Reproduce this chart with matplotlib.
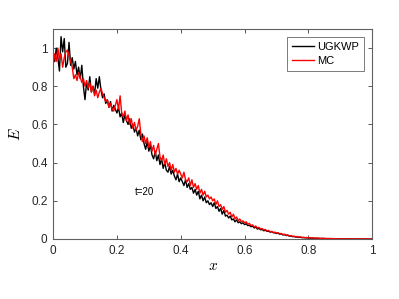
import numpy as np
import matplotlib
matplotlib.use('Agg')
import matplotlib.pyplot as plt

plt.rcParams['font.family'] = ['Liberation Sans', 'DejaVu Sans']
plt.rcParams['mathtext.fontset'] = 'cm'

# x grid of both runs
x = np.linspace(0, 1, 201)

# energy, UGKWP
E_ugkwp = [0.96, 0.93, 1.00, 0.95, 0.88, 1.06, 0.98, 1.05, 0.90, 0.92, 1.03, 0.91, 0.95, 0.89, 0.93, 0.86, 0.90, 0.84, 0.91, 0.80,
           0.73, 0.82, 0.78, 0.85, 0.77, 0.80, 0.76, 0.84, 0.79, 0.85, 0.78, 0.74, 0.76, 0.71, 0.73, 0.69, 0.72, 0.67, 0.70, 0.68,
           0.66, 0.69, 0.64, 0.66, 0.61, 0.65, 0.62, 0.60, 0.63, 0.58, 0.60, 0.56, 0.58, 0.54, 0.57, 0.52, 0.55, 0.50, 0.47, 0.51,
           0.46, 0.49, 0.44, 0.42, 0.46, 0.41, 0.44, 0.39, 0.42, 0.37, 0.40, 0.36, 0.35, 0.38, 0.34, 0.36, 0.33, 0.31, 0.34, 0.30,
           0.32, 0.30, 0.28, 0.31, 0.27, 0.29, 0.26, 0.27, 0.24, 0.26, 0.23, 0.25, 0.21, 0.23, 0.20, 0.22, 0.19, 0.20, 0.18, 0.19,
           0.17, 0.19, 0.16, 0.17, 0.145, 0.16, 0.13, 0.15, 0.12, 0.125, 0.11, 0.12, 0.10, 0.105, 0.09, 0.10, 0.085, 0.09, 0.08, 0.085,
           0.075, 0.08, 0.07, 0.072, 0.064, 0.068, 0.058, 0.062, 0.052, 0.056, 0.048, 0.05, 0.043, 0.046, 0.04, 0.041, 0.036, 0.038, 0.033, 0.032,
           0.029, 0.03, 0.025, 0.027, 0.021, 0.023, 0.018, 0.019, 0.015, 0.016, 0.012, 0.013, 0.010, 0.011, 0.008, 0.009, 0.007, 0.007, 0.006, 0.006,
           0.005, 0.005, 0.004, 0.005, 0.003, 0.004, 0.003, 0.003, 0.002, 0.003, 0.002, 0.002, 0.002, 0.001, 0.002, 0.001, 0.001, 0.001, 0.001, 0.001,
           0.001, 0.0005, 0.001, 0.0005, 0.0005, 0.0005, 0.0, 0.0005, 0.0, 0.0, 0.0, 0.0, 0.0, 0.0, 0.0, 0.0, 0.0, 0.0, 0.0, 0.0, 0.0]

# energy, MC
E_mc = [0.91, 0.97, 0.93, 1.00, 0.94, 0.97, 0.90, 0.95, 0.98, 0.99, 0.96, 0.93, 0.90, 0.84, 0.86, 0.83, 0.87, 0.85, 0.82, 0.84,
        0.80, 0.83, 0.79, 0.82, 0.77, 0.80, 0.75, 0.78, 0.74, 0.77, 0.79, 0.76, 0.74, 0.72, 0.73, 0.69, 0.71, 0.68, 0.67, 0.70,
        0.73, 0.68, 0.75, 0.66, 0.64, 0.67, 0.62, 0.65, 0.60, 0.63, 0.58, 0.61, 0.57, 0.59, 0.63, 0.55, 0.51, 0.54, 0.50, 0.53,
        0.48, 0.51, 0.46, 0.49, 0.44, 0.47, 0.50, 0.43, 0.41, 0.44, 0.39, 0.42, 0.38, 0.40, 0.36, 0.39, 0.35, 0.37, 0.34, 0.36,
        0.34, 0.32, 0.35, 0.31, 0.30, 0.32, 0.28, 0.31, 0.27, 0.29, 0.26, 0.28, 0.24, 0.26, 0.23, 0.25, 0.22, 0.23, 0.21, 0.22,
        0.20, 0.21, 0.18, 0.20, 0.17, 0.18, 0.155, 0.17, 0.14, 0.15, 0.13, 0.14, 0.115, 0.13, 0.105, 0.115, 0.095, 0.105, 0.09, 0.095,
        0.085, 0.09, 0.077, 0.082, 0.07, 0.074, 0.063, 0.068, 0.057, 0.061, 0.052, 0.055, 0.047, 0.05, 0.042, 0.045, 0.038, 0.04, 0.034, 0.036,
        0.031, 0.033, 0.027, 0.029, 0.024, 0.025, 0.02, 0.022, 0.017, 0.018, 0.014, 0.015, 0.012, 0.013, 0.01, 0.011, 0.008, 0.009, 0.007, 0.008,
        0.006, 0.007, 0.005, 0.006, 0.004, 0.005, 0.004, 0.004, 0.003, 0.004, 0.003, 0.003, 0.002, 0.003, 0.002, 0.002, 0.002, 0.001, 0.002, 0.001,
        0.001, 0.001, 0.001, 0.0005, 0.001, 0.0005, 0.0005, 0.0, 0.0005, 0.0, 0.0, 0.0, 0.0, 0.0, 0.0, 0.0, 0.0, 0.0, 0.0, 0.0, 0.0]

fig = plt.figure(figsize=(3.99, 2.99), dpi=100)
ax = fig.add_axes([0.133, 0.2007, 0.8, 0.7023])

ax.plot(x, E_ugkwp, color='k', lw=1.0, label='UGKWP')
ax.plot(x, E_mc, color='r', lw=1.0, label='MC')

ax.text(0.285, 0.245, 't=20', fontsize=7, ha='center', va='center')

ax.set_xlim(0, 1)
ax.set_ylim(0, 1.1)
ax.set_xticks([0, 0.2, 0.4, 0.6, 0.8, 1])
ax.set_xticklabels(['0', '0.2', '0.4', '0.6', '0.8', '1'])
ax.set_yticks([0, 0.2, 0.4, 0.6, 0.8, 1])
ax.set_yticklabels(['0', '0.2', '0.4', '0.6', '0.8', '1'])
ax.tick_params(direction='in', top=True, right=True, length=3, width=0.6,
               colors='#404040', labelcolor='#262626', labelsize=8.5, pad=4)
for s in ax.spines.values():
    s.set_color('#606060')
    s.set_linewidth(0.8)

ax.set_xlabel('$x$', fontsize=11, labelpad=2)
ax.set_ylabel('$E$', fontsize=11, labelpad=6)

leg = ax.legend(loc='upper right', fontsize=8, frameon=True, fancybox=False,
                handlelength=2.0, handletextpad=0.3, borderpad=0.45,
                labelspacing=0.35, borderaxespad=0.7)
leg.get_frame().set_edgecolor('#404040')
leg.get_frame().set_linewidth(0.6)

fig.savefig('out.png', dpi=100)
